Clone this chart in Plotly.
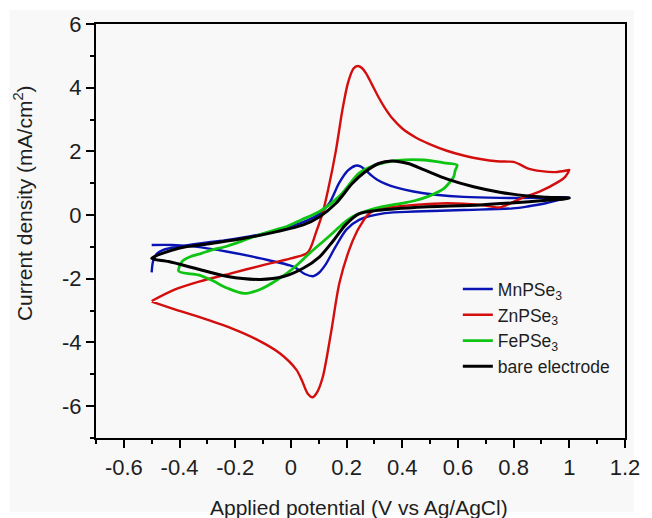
import plotly.graph_objects as go

# Cyclic voltammograms: potential (V vs Ag/AgCl) and current density (mA/cm^2)
# Each loop runs anodic (upper branch) then cathodic (lower branch).

mn_potential = [-0.50, -0.495, -0.48, -0.46, -0.40, -0.30, -0.227, -0.13, -0.05, 0.032, 0.08, 0.103,
                0.138, 0.173, 0.205, 0.232, 0.25, 0.27, 0.29, 0.31, 0.34, 0.38, 0.44, 0.52, 0.62,
                0.75, 0.88, 1.00,
                0.95, 0.915, 0.85, 0.797, 0.62, 0.444, 0.338, 0.245, 0.20, 0.16, 0.125, 0.10, 0.08, 0.05,
                0.009, -0.109, -0.227, -0.344, -0.427, -0.50]
mn_current = [-1.80, -1.45, -1.20, -1.10, -0.98, -0.86, -0.78, -0.64, -0.47, -0.26, -0.08, 0.05,
              0.37, 1.00, 1.40, 1.55, 1.53, 1.40, 1.24, 1.11, 0.98, 0.86, 0.74, 0.64, 0.57,
              0.54, 0.54, 0.56,
              0.45, 0.37, 0.27, 0.21, 0.16, 0.11, 0.06, -0.15, -0.45, -1.00, -1.55, -1.82, -1.92, -1.85,
              -1.62, -1.36, -1.15, -0.99, -0.94, -0.94]

zn_potential = [-0.50, -0.42, -0.33, -0.215, -0.10, 0.0, 0.06, 0.09, 0.115, 0.135, 0.162, 0.185,
                0.205, 0.225, 0.24, 0.255, 0.27, 0.29, 0.31, 0.335, 0.365, 0.40, 0.45, 0.50, 0.56,
                0.62, 0.68, 0.74, 0.78, 0.80, 0.82, 0.85, 0.90, 0.95, 0.99, 1.00,
                0.985, 0.962, 0.891, 0.833, 0.786, 0.75, 0.68, 0.562, 0.444, 0.35, 0.303, 0.275,
                0.255, 0.238, 0.209, 0.174, 0.144, 0.115, 0.095, 0.078, 0.06, 0.04, 0.02, -0.04,
                -0.12, -0.215, -0.333, -0.42, -0.50]
zn_current = [-2.70, -2.35, -2.09, -1.83, -1.57, -1.36, -1.18, -0.55, 0.10, 0.85, 2.04, 3.30,
              4.15, 4.60, 4.68, 4.62, 4.45, 4.12, 3.78, 3.40, 3.03, 2.72, 2.43, 2.22, 2.02,
              1.87, 1.76, 1.69, 1.68, 1.67, 1.60, 1.47, 1.38, 1.35, 1.40, 1.42,
              1.20, 1.05, 0.73, 0.55, 0.36, 0.24, 0.32, 0.37, 0.32, 0.24, 0.16, 0.00,
              -0.25, -0.50, -1.10, -2.14, -3.70, -5.07, -5.55, -5.72, -5.60, -5.20, -4.86, -4.34,
              -3.92, -3.55, -3.19, -2.95, -2.72]

fe_potential = [-0.403, -0.39, -0.36, -0.321, -0.286, -0.227, -0.133, -0.05, -0.015, 0.04, 0.103,
                0.173, 0.20, 0.244, 0.303, 0.385, 0.479, 0.55, 0.597,
                0.59, 0.585, 0.55, 0.491, 0.444, 0.397, 0.303, 0.221, 0.197, 0.162, 0.126, 0.067,
                0.009, -0.05, -0.109, -0.168, -0.227, -0.286, -0.333, -0.403]
fe_current = [-1.76, -1.45, -1.30, -1.20, -1.10, -0.97, -0.68, -0.45, -0.36, -0.14, 0.11,
              0.58, 0.85, 1.31, 1.57, 1.72, 1.73, 1.64, 1.57,
              1.40, 1.21, 0.84, 0.58, 0.45, 0.37, 0.21, -0.05, -0.20, -0.47, -0.75, -1.20,
              -1.67, -2.04, -2.33, -2.46, -2.30, -2.04, -1.88, -1.76]

bare_potential = [-0.50, -0.403, -0.286, -0.168, -0.05, 0.044, 0.103, 0.162, 0.221, 0.267, 0.315,
                  0.362, 0.421, 0.479, 0.562, 0.656, 0.75, 0.85, 0.92, 1.00,
                  0.93, 0.856, 0.68, 0.444, 0.303, 0.244, 0.197, 0.15, 0.103, 0.044, -0.027,
                  -0.109, -0.227, -0.344, -0.439, -0.50]
bare_current = [-1.36, -1.04, -0.89, -0.73, -0.52, -0.31, -0.05, 0.37, 1.00, 1.36, 1.62,
                1.70, 1.62, 1.42, 1.13, 0.89, 0.72, 0.60, 0.56, 0.53,
                0.47, 0.42, 0.32, 0.24, 0.14, 0.04, -0.30, -0.83, -1.31, -1.67, -1.93,
                -2.02, -1.93, -1.67, -1.46, -1.36]

series = [
    ("MnPSe<sub>3</sub>", mn_potential, mn_current, "#0a14b4", 2.4),
    ("ZnPSe<sub>3</sub>", zn_potential, zn_current, "#d40d0d", 2.4),
    ("FePSe<sub>3</sub>", fe_potential, fe_current, "#10c414", 2.8),
    ("bare electrode", bare_potential, bare_current, "#000000", 3.0),
]

x_ticks = [-0.6, -0.4, -0.2, 0, 0.2, 0.4, 0.6, 0.8, 1, 1.2]
x_tick_text = ["-0.6", "-0.4", "-0.2", "0", "0.2", "0.4", "0.6", "0.8", "1", "1.2"]
y_ticks = [-6, -4, -2, 0, 2, 4, 6]
y_tick_text = ["-6", "-4", "-2", "0", "2", "4", "6"]

FONT = "Liberation Sans, Arial, sans-serif"
TEXT = "#1e1e1e"

fig = go.Figure()
for name, xs, ys, color, width in series:
    fig.add_trace(go.Scatter(
        x=xs, y=ys, name=name, mode="lines",
        line=dict(color=color, width=width, shape="spline", smoothing=0.8),
    ))

axis_common = dict(
    showline=True, linecolor="#000000", linewidth=2.2, mirror=True,
    showgrid=False, zeroline=False,
    ticks="outside", ticklen=8, tickwidth=2, tickcolor="#000000",
    tickfont=dict(family=FONT, size=22, color=TEXT),
)

fig.update_xaxes(
    range=[-0.7, 1.2], tickmode="array", tickvals=x_ticks, ticktext=x_tick_text,
    minor=dict(ticks="outside", ticklen=4, tickwidth=2, tickcolor="#000000", dtick=0.1, tick0=0),
    **axis_common,
)
fig.update_yaxes(
    range=[-7, 6], tickmode="array", tickvals=y_ticks, ticktext=y_tick_text,
    minor=dict(ticks="outside", ticklen=4, tickwidth=2, tickcolor="#000000", dtick=1, tick0=0),
    **axis_common,
)

fig.add_annotation(
    text="Applied potential (V vs Ag/AgCl)", xref="paper", yref="paper",
    x=0.498, y=-0.167, xanchor="center", yanchor="middle", showarrow=False,
    font=dict(family=FONT, size=21, color=TEXT),
)
fig.add_annotation(
    text="Current density (mA/cm<sup>2</sup>)", xref="paper", yref="paper",
    x=-0.1375, y=0.568, xanchor="center", yanchor="middle", textangle=-90, showarrow=False,
    font=dict(family=FONT, size=21, color=TEXT),
)

# light grey panel behind the whole figure, inset from the white page edge
fig.add_shape(
    type="rect", xref="paper", yref="paper", layer="below",
    x0=-0.1636, x1=1.0167, y0=-0.1787, y1=1.0338,
    fillcolor="#f8f8f8", line=dict(width=0),
)

fig.update_layout(
    width=652, height=518,
    margin=dict(l=96, r=18, t=24, b=80),
    paper_bgcolor="#ffffff", plot_bgcolor="rgba(0,0,0,0)",
    showlegend=True,
    legend=dict(
        x=0.684, y=0.403, xanchor="left", yanchor="top",
        bgcolor="rgba(0,0,0,0)", borderwidth=0,
        font=dict(family=FONT, size=17.5, color=TEXT),
    ),
)

fig.write_html("out.html")
